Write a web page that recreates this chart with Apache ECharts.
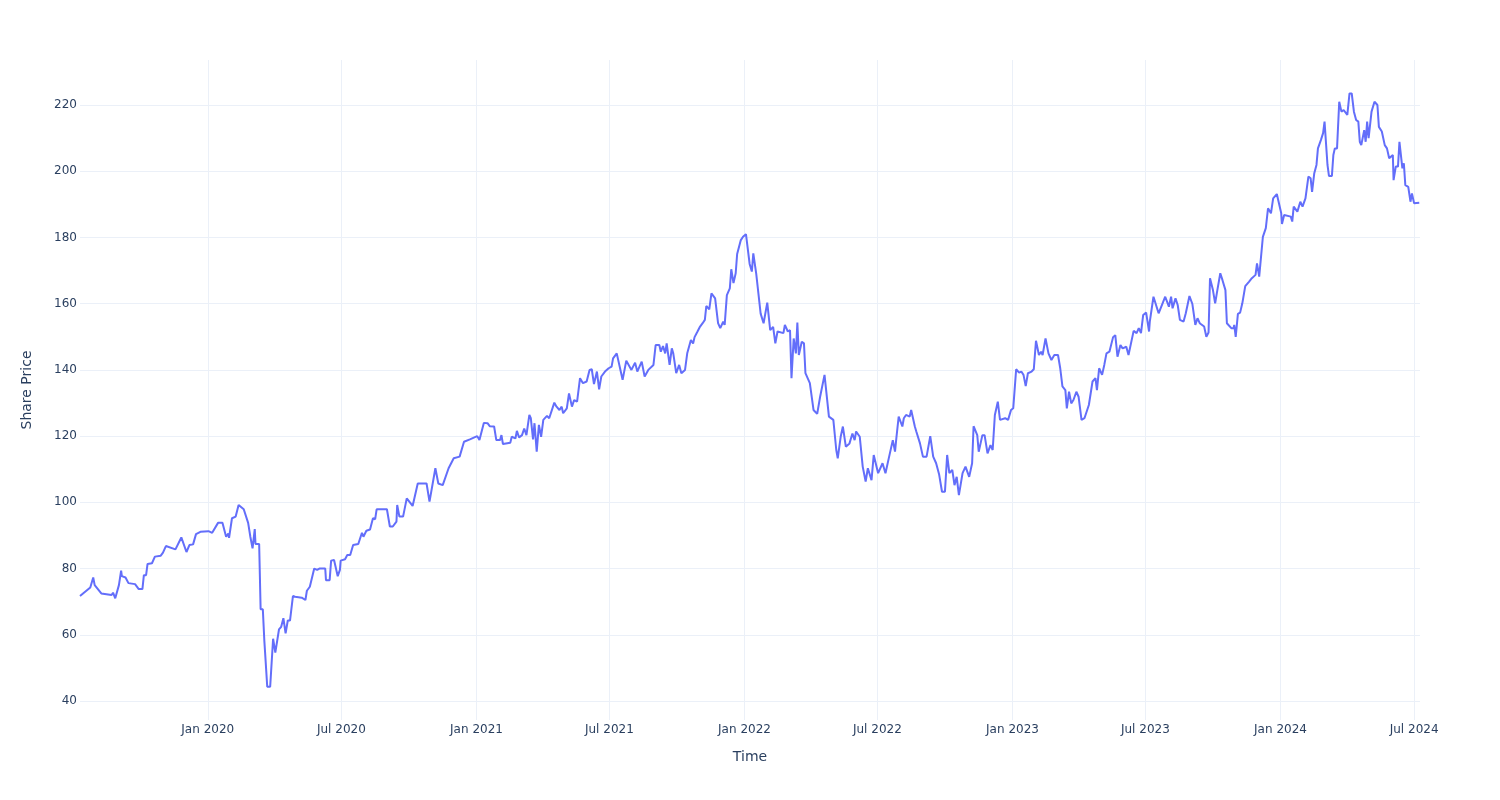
<!DOCTYPE html>
<html>
<head>
<meta charset="utf-8">
<script src="https://cdn.jsdelivr.net/npm/echarts@6/dist/echarts.min.js"></script>
<style>html,body{margin:0;padding:0;background:#fff}#chart{width:1500px;height:800px}</style>
</head>
<body>
<div id="chart"></div>
<script>
const dates = [
'2019-07-11','2019-07-25','2019-07-29','2019-07-31','2019-08-09','2019-08-23','2019-08-25','2019-08-28','2019-09-02','2019-09-05','2019-09-06','2019-09-11','2019-09-15','2019-09-24','2019-09-29','2019-10-04','2019-10-06','2019-10-09','2019-10-11','2019-10-17','2019-10-21','2019-10-29','2019-11-01','2019-11-03','2019-11-05','2019-11-18','2019-11-26','2019-12-03','2019-12-07','2019-12-12','2019-12-16','2019-12-22',
'2020-01-02','2020-01-07','2020-01-15','2020-01-21','2020-01-26','2020-01-29','2020-01-30','2020-02-03','2020-02-08','2020-02-12','2020-02-19','2020-02-25','2020-02-28','2020-03-02','2020-03-05','2020-03-06','2020-03-11','2020-03-13','2020-03-16','2020-03-18','2020-03-19','2020-03-22','2020-03-26','2020-03-30','2020-04-02','2020-04-07','2020-04-10','2020-04-13','2020-04-16','2020-04-19','2020-04-22','2020-04-26','2020-04-29','2020-05-08','2020-05-13','2020-05-15','2020-05-19','2020-05-25','2020-05-29','2020-06-01','2020-06-09','2020-06-10','2020-06-15','2020-06-17','2020-06-21','2020-06-26','2020-06-29','2020-06-30','2020-07-06','2020-07-09','2020-07-13','2020-07-17','2020-07-24','2020-07-29','2020-07-31','2020-08-04','2020-08-09','2020-08-13','2020-08-16','2020-08-18','2020-09-01','2020-09-05','2020-09-09','2020-09-14','2020-09-15','2020-09-18','2020-09-23','2020-09-28','2020-10-06','2020-10-13','2020-10-25','2020-10-29','2020-10-31','2020-11-06','2020-11-10','2020-11-16','2020-11-24','2020-12-01','2020-12-09','2020-12-15','2020-12-23',
'2021-01-02','2021-01-05','2021-01-11','2021-01-16','2021-01-19','2021-01-25','2021-01-28','2021-02-02','2021-02-04','2021-02-06','2021-02-16','2021-02-18','2021-02-23','2021-02-25','2021-02-28','2021-03-04','2021-03-07','2021-03-10','2021-03-14','2021-03-16','2021-03-19','2021-03-21','2021-03-24','2021-03-27','2021-03-30','2021-04-02','2021-04-07','2021-04-10','2021-04-17','2021-04-20','2021-04-24','2021-04-27','2021-04-29','2021-05-04','2021-05-07','2021-05-11','2021-05-14','2021-05-18','2021-05-22','2021-05-26','2021-05-31','2021-06-04','2021-06-07','2021-06-10','2021-06-14','2021-06-17','2021-06-20','2021-06-25','2021-06-30','2021-07-04','2021-07-06','2021-07-11','2021-07-19','2021-07-24','2021-07-31','2021-08-05','2021-08-08','2021-08-14','2021-08-18','2021-08-23','2021-08-30','2021-09-02','2021-09-07','2021-09-09','2021-09-12','2021-09-15','2021-09-17','2021-09-21','2021-09-24','2021-09-26','2021-09-30','2021-10-04','2021-10-07','2021-10-12','2021-10-15','2021-10-20','2021-10-23','2021-10-25','2021-10-29','2021-11-01','2021-11-05','2021-11-08','2021-11-10','2021-11-14','2021-11-17','2021-11-22','2021-11-26','2021-11-29','2021-12-03','2021-12-05','2021-12-08','2021-12-12','2021-12-14','2021-12-17','2021-12-20','2021-12-22','2021-12-27','2021-12-30',
'2022-01-03','2022-01-08','2022-01-11','2022-01-13','2022-01-17','2022-01-23','2022-01-27','2022-02-01','2022-02-05','2022-02-09','2022-02-12','2022-02-15','2022-02-23','2022-02-25','2022-03-01','2022-03-04','2022-03-06','2022-03-09','2022-03-12','2022-03-14','2022-03-16','2022-03-20','2022-03-23','2022-03-25','2022-03-31','2022-04-05','2022-04-10','2022-04-14','2022-04-20','2022-04-26','2022-05-02','2022-05-06','2022-05-08','2022-05-12','2022-05-15','2022-05-19','2022-05-24','2022-05-28','2022-05-31','2022-06-02','2022-06-07','2022-06-11','2022-06-15','2022-06-18','2022-06-23','2022-06-26','2022-07-02','2022-07-08','2022-07-12','2022-07-17','2022-07-22','2022-07-25','2022-07-27','2022-07-30','2022-08-04','2022-08-06','2022-08-09','2022-08-14','2022-08-16','2022-08-21','2022-08-23','2022-08-28','2022-09-01','2022-09-06','2022-09-11','2022-09-15','2022-09-19','2022-09-23','2022-09-27','2022-10-01','2022-10-04','2022-10-07','2022-10-11','2022-10-14','2022-10-17','2022-10-20','2022-10-25','2022-10-29','2022-11-03','2022-11-07','2022-11-09','2022-11-14','2022-11-16','2022-11-21','2022-11-24','2022-11-28','2022-12-02','2022-12-05','2022-12-08','2022-12-12','2022-12-15','2022-12-22','2022-12-26','2022-12-30',
'2023-01-02','2023-01-06','2023-01-10','2023-01-13','2023-01-16','2023-01-19','2023-01-22','2023-01-27','2023-01-30','2023-02-02','2023-02-06','2023-02-09','2023-02-11','2023-02-15','2023-02-19','2023-02-23','2023-02-27','2023-03-04','2023-03-07','2023-03-10','2023-03-14','2023-03-16','2023-03-19','2023-03-22','2023-03-25','2023-03-29','2023-04-01','2023-04-05','2023-04-09','2023-04-15','2023-04-20','2023-04-24','2023-04-26','2023-04-29','2023-05-03','2023-05-06','2023-05-09','2023-05-13','2023-05-18','2023-05-21','2023-05-24','2023-05-28','2023-05-31','2023-06-05','2023-06-08','2023-06-15','2023-06-19','2023-06-22','2023-06-25','2023-06-28','2023-07-02','2023-07-06','2023-07-07','2023-07-12','2023-07-19','2023-07-24','2023-07-28','2023-08-02','2023-08-05','2023-08-07','2023-08-11','2023-08-14','2023-08-17','2023-08-22','2023-08-25','2023-08-30','2023-09-03','2023-09-07','2023-09-10','2023-09-13','2023-09-19','2023-09-22','2023-09-25','2023-09-27','2023-10-01','2023-10-04','2023-10-07','2023-10-11','2023-10-14','2023-10-18','2023-10-20','2023-10-26','2023-10-29','2023-10-30','2023-11-01','2023-11-04','2023-11-07','2023-11-10','2023-11-14','2023-11-19','2023-11-23','2023-11-28','2023-11-30','2023-12-03','2023-12-08','2023-12-12','2023-12-15','2023-12-19','2023-12-22','2023-12-27','2023-12-28',
'2024-01-02','2024-01-03','2024-01-06','2024-01-15','2024-01-17','2024-01-19','2024-01-24','2024-01-28','2024-01-31','2024-02-04','2024-02-08','2024-02-11','2024-02-13','2024-02-16','2024-02-19','2024-02-21','2024-02-25','2024-02-28','2024-03-01','2024-03-03','2024-03-05','2024-03-07','2024-03-11','2024-03-13','2024-03-15','2024-03-18','2024-03-21','2024-03-24','2024-03-27','2024-04-01','2024-04-04','2024-04-07','2024-04-10','2024-04-13','2024-04-16','2024-04-18','2024-04-20','2024-04-24','2024-04-26','2024-04-28','2024-04-30','2024-05-04','2024-05-08','2024-05-12','2024-05-14','2024-05-18','2024-05-22','2024-05-25','2024-05-28','2024-06-02','2024-06-03','2024-06-06','2024-06-09','2024-06-11','2024-06-15','2024-06-17','2024-06-19','2024-06-23','2024-06-26','2024-06-28','2024-07-01','2024-07-08'
];
const prices = [
71.7,74.3,77.3,75.0,72.5,72.0,72.7,71.0,75.0,79.4,77.7,77.3,75.6,75.3,73.8,73.8,78.0,78.0,81.4,81.6,83.6,83.9,84.8,85.2,86.8,85.8,89.4,85.0,87.1,87.3,90.4,91.1,
91.3,90.8,93.8,93.8,89.6,90.6,89.3,95.2,95.7,99.2,97.9,93.8,89.6,86.1,91.9,87.4,87.4,67.7,67.7,58.4,54.9,44.3,44.3,58.8,54.6,61.6,62.4,65.0,60.4,64.3,64.3,71.7,71.5,71.2,70.5,73.3,74.5,80.0,79.6,80.0,80.0,76.5,76.5,82.4,82.6,77.7,79.6,82.4,82.8,84.1,84.1,87.1,87.4,90.8,89.6,91.4,91.8,95.2,94.9,97.9,97.9,92.7,92.7,94.2,99.2,95.7,95.7,101.2,98.9,105.7,105.7,100.2,100.2,110.3,105.7,105.2,110.3,113.3,113.8,118.3,119.0,
120.0,118.8,124.0,123.9,123.0,122.9,118.8,118.8,120.3,117.6,118.0,119.8,119.3,121.6,119.6,120.3,122.3,120.3,126.4,125.4,119.0,123.9,115.3,123.4,119.8,124.9,126.1,125.4,130.1,128.9,127.9,128.9,126.9,128.4,132.9,128.9,130.9,130.4,137.5,136.0,136.5,140.0,140.2,135.7,139.5,134.1,138.0,139.5,140.5,141.0,143.5,145.0,137.0,142.8,140.0,142.2,139.5,142.5,138.0,140.0,141.5,147.5,147.5,145.5,147.2,145.0,148.0,141.5,146.5,145.0,139.0,141.5,139.0,140.0,145.0,149.0,148.0,149.9,151.6,152.9,154.1,155.1,159.3,158.3,163.1,161.6,154.1,152.6,154.6,153.6,162.6,164.6,170.4,166.2,169.2,175.0,179.2,180.2,
181.0,172.0,169.7,175.2,169.0,157.0,154.1,160.3,152.0,153.0,148.0,151.6,151.1,153.6,151.6,152.0,137.5,149.5,145.0,154.3,144.5,148.5,148.0,139.0,136.0,127.9,126.7,131.9,138.5,125.9,124.9,115.8,113.3,119.8,122.9,116.8,117.8,120.8,118.8,121.4,119.8,110.8,106.3,110.3,106.7,114.3,108.8,111.8,108.8,113.8,118.8,115.3,119.8,125.9,122.9,125.4,126.4,125.9,127.9,122.9,121.4,117.8,113.8,113.8,120.0,113.8,111.8,108.5,103.2,103.2,114.3,108.8,109.8,105.2,107.7,102.2,108.8,110.8,107.7,111.8,123.0,120.3,115.3,120.3,120.3,114.8,117.3,115.8,126.4,130.4,124.9,125.4,124.9,127.9,
128.4,140.2,139.2,139.5,138.5,135.1,139.0,139.5,140.2,148.8,144.5,145.5,144.5,149.5,145.0,143.0,144.5,144.5,140.5,135.0,133.9,128.4,133.4,129.9,130.9,133.4,131.9,124.9,125.4,129.4,136.5,137.5,133.9,140.5,138.5,141.5,145.0,145.5,149.9,150.5,144.0,147.5,146.5,147.0,144.5,151.8,151.1,152.6,151.1,156.6,157.3,151.6,154.6,162.1,157.1,159.9,162.1,159.1,162.1,158.6,161.6,159.6,155.1,154.6,157.1,162.3,159.9,153.6,155.6,154.1,153.1,150.0,151.3,167.7,164.1,160.1,164.1,169.2,167.1,164.1,154.1,152.6,152.6,153.6,150.0,156.9,157.3,160.1,165.3,166.6,167.7,168.7,172.2,168.2,180.2,182.8,188.8,187.3,191.8,193.1,192.8,
187.3,184.1,186.8,186.3,184.8,189.3,187.8,190.8,189.3,191.8,198.4,197.9,193.8,199.4,201.9,206.9,209.4,211.5,215.0,215.5,201.9,198.6,198.6,204.9,206.9,206.9,221.0,218.0,218.5,217.0,223.5,223.5,218.0,215.5,215.0,208.9,207.9,212.4,208.9,215.0,210.0,218.0,221.0,220.0,213.4,212.0,207.9,206.9,203.9,204.9,197.3,201.4,201.4,208.9,200.9,202.4,195.8,195.3,190.8,193.3,190.3,190.5
];
const xTickDates = ['2020-01-01','2020-07-01','2021-01-01','2021-07-01','2022-01-01','2022-07-01','2023-01-01','2023-07-01','2024-01-01','2024-07-01'];
const yTicks = [40,60,80,100,120,140,160,180,200,220];
const monthNames = ['Jan','Feb','Mar','Apr','May','Jun','Jul','Aug','Sep','Oct','Nov','Dec'];

const P = s => echarts.time.parse(s).getTime();
const seriesData = dates.map((d, i) => [P(d), prices[i]]);
const xTicks = xTickDates.map(P);
const font = 'DejaVu Sans, Verdana, sans-serif';
const textColor = '#2a3f5f';
const gridColor = '#EBF0F8';

const chart = echarts.init(document.getElementById('chart'), null, {renderer: 'canvas'});
chart.setOption({
  animation: false,
  backgroundColor: '#ffffff',
  grid: {left: 80, right: 80, top: 60, bottom: 80, containLabel: false},
  xAxis: {
    type: 'value',
    min: P('2019-07-11'),
    max: P('2024-07-09'),
    name: 'Time',
    nameLocation: 'middle',
    nameGap: 30,
    nameTextStyle: {fontFamily: font, fontSize: 14, color: textColor},
    axisLine: {show: false},
    axisTick: {show: false, customValues: xTicks},
    axisLabel: {
      customValues: xTicks,
      fontFamily: font, fontSize: 12, color: textColor, margin: 4,
      formatter: v => { const d = new Date(v); return monthNames[d.getMonth()] + ' ' + d.getFullYear(); }
    },
    splitLine: {show: true, lineStyle: {color: gridColor, width: 1}}
  },
  yAxis: {
    type: 'value',
    min: 34.26,
    max: 233.6,
    name: 'Share Price',
    nameLocation: 'middle',
    nameGap: 46,
    nameTextStyle: {fontFamily: font, fontSize: 14, color: textColor},
    axisLine: {show: false},
    axisTick: {show: false, customValues: yTicks},
    axisLabel: {customValues: yTicks, fontFamily: font, fontSize: 12, color: textColor, margin: 3},
    splitLine: {show: true, lineStyle: {color: gridColor, width: 1}}
  },
  series: [{
    type: 'line',
    data: seriesData,
    showSymbol: false,
    symbol: 'none',
    lineStyle: {color: '#636EFA', width: 2},
    itemStyle: {color: '#636EFA'}
  }]
});
</script>
</body>
</html>
